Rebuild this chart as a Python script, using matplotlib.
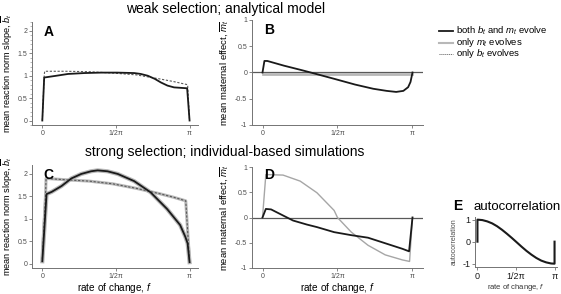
import numpy as np
import matplotlib
matplotlib.use('Agg')
import matplotlib.pyplot as plt
from matplotlib.ticker import MultipleLocator, FuncFormatter

plt.rcParams['font.family'] = ['Liberation Sans', 'DejaVu Sans']
plt.rcParams['mathtext.fontset'] = 'custom'
plt.rcParams['mathtext.it'] = 'Liberation Sans:italic'
plt.rcParams['mathtext.rm'] = 'Liberation Sans'

PI = np.pi

# panel A: weak selection, mean reaction norm slope
a_both_f = [0, 0.04, 0.3, 0.55, 0.9, 1.26, 1.6, 1.96, 2.1, 2.25, 2.4, 2.53, 2.67, 2.81, 2.95, 3.09, 3.1416]
a_both_b = [0, 0.96, 1.0, 1.04, 1.06, 1.07, 1.07, 1.06, 1.04, 1.0, 0.93, 0.85, 0.78, 0.74, 0.73, 0.72, 0]
a_bonly_f = [0, 0.04, 0.05, 0.5, 1.0, 1.5, 2.0, 2.5, 2.8, 3.1, 3.1416]
a_bonly_b = [0, 1.0, 1.1, 1.1, 1.09, 1.06, 1.02, 0.93, 0.87, 0.80, 0]

# panel B: weak selection, mean maternal effect
b_both_f = [0, 0.04, 0.1, 0.45, 0.82, 1.05, 1.5, 1.94, 2.32, 2.6, 2.8, 2.95, 3.05, 3.1, 3.1416]
b_both_m = [0, 0.22, 0.22, 0.13, 0.045, -0.01, -0.12, -0.23, -0.31, -0.35, -0.37, -0.35, -0.28, -0.18, 0]
b_monly_f = [0, 3.1416]
b_monly_m = [-0.02, -0.02]

# panel C: strong selection, mean reaction norm slope
c_both_f = [0, 0.09, 0.2, 0.41, 0.62, 0.83, 1.04, 1.18, 1.39, 1.61, 1.96, 2.31, 2.66, 2.94, 3.05, 3.1, 3.1416]
c_both_b = [0.05, 1.55, 1.6, 1.73, 1.9, 2.0, 2.06, 2.08, 2.06, 2.0, 1.84, 1.59, 1.22, 0.86, 0.6, 0.45, 0.03]
c_bonly_f = [0, 0.07, 0.08, 0.5, 1.0, 1.5, 2.0, 2.5, 2.8, 3.06, 3.1416]
c_bonly_b = [0.1, 1.55, 1.9, 1.87, 1.84, 1.78, 1.68, 1.56, 1.48, 1.4, 0.05]

# panel D: strong selection, mean maternal effect
d_both_f = [0, 0.07, 0.18, 0.43, 0.64, 0.93, 1.14, 1.5, 1.86, 2.21, 2.57, 2.93, 3.07, 3.1416]
d_both_m = [0, 0.17, 0.16, 0.04, -0.06, -0.14, -0.19, -0.29, -0.35, -0.40, -0.51, -0.62, -0.67, 0]
d_monly_f = [0, 0.07, 0.43, 0.79, 1.14, 1.5, 1.57, 1.86, 2.21, 2.57, 2.93, 3.08, 3.1416]
d_monly_m = [0, 0.85, 0.84, 0.72, 0.49, 0.14, 0.0, -0.29, -0.55, -0.74, -0.84, -0.87, 0]

# panel E: autocorrelation of the environment
e_f = [0, 0, 0.2, 0.4, 0.6, 0.8, 1.0, 1.2, 1.4, 1.571, 1.8, 2.0, 2.2, 2.4, 2.6, 2.8, 3.0, 3.1416, 3.1416]
e_r = [0, 1.0, 0.98, 0.92, 0.83, 0.70, 0.54, 0.36, 0.17, 0.0, -0.23, -0.42, -0.59, -0.74, -0.86, -0.94, -0.99, -1.0, 0]

xticks = [0, PI / 2, PI]
xticklabels = ['0', '1/2π', 'π']

W, H = 561, 294
fig = plt.figure(figsize=(W / 100, H / 100), dpi=100)


def box(l, t, r, b):
    return fig.add_axes([l / W, 1 - b / H, (r - l) / W, (b - t) / H])


def style(ax, xlim, ylim, yticks, tick_fs=5):
    for s in ['top', 'right']:
        ax.spines[s].set_visible(False)
    for s in ['left', 'bottom']:
        ax.spines[s].set_color('0.45')
        ax.spines[s].set_linewidth(0.7)
    ax.set_xlim(*xlim)
    ax.set_ylim(*ylim)
    ax.set_xticks(xticks)
    ax.set_xticklabels(xticklabels)
    ax.set_yticks(yticks)
    ax.yaxis.set_major_formatter(FuncFormatter(lambda v, p: '%g' % v))
    ax.tick_params(labelsize=tick_fs, colors='0.45', labelcolor='0.3', length=2, width=0.6, pad=1.5)


gray = '0.72'
ylab_b = r'mean reaction norm slope, $\overline{b}_t$'
ylab_m = r'mean maternal effect, $\overline{m}_t$'
xlab = r'rate of change, $f$'

A = box(32, 22, 198, 125)
A.plot(a_bonly_f, a_bonly_b, color='0.35', ls=(0, (2, 1.5)), lw=0.8)
A.plot(a_both_f, a_both_b, color='0.1', lw=1.3)
style(A, (-0.22, PI + 0.18), (-0.1, 2.2), [0, 0.5, 1, 1.5, 2])
A.yaxis.set_minor_locator(MultipleLocator(0.1))
A.tick_params(which='minor', length=1.2, width=0.4, colors='0.5')
A.set_ylabel(ylab_b, fontsize=6.6, labelpad=1.5)
A.text(0.07, 0.97, 'A', transform=A.transAxes, fontsize=10, fontweight='bold', va='top')

B = box(252, 20, 423, 125)
B.axhline(0, color='0.35', lw=0.9)
B.plot(b_monly_f, b_monly_m, color=gray, lw=2.0)
B.plot(b_both_f, b_both_m, color='0.1', lw=1.3)
style(B, (-0.22, PI + 0.22), (-1, 1), [-1, -0.5, 0, 0.5, 1])
B.set_ylabel(ylab_m, fontsize=6.8, labelpad=3)
B.text(0.07, 0.97, 'B', transform=B.transAxes, fontsize=10, fontweight='bold', va='top')

C = box(32, 165, 198, 268)
C.plot(c_bonly_f, c_bonly_b, color=gray, lw=2.2)
C.plot(c_both_f, c_both_b, color=gray, lw=3.0)
C.plot(c_bonly_f, c_bonly_b, color='0.35', ls=(0, (2, 1.5)), lw=0.8)
C.plot(c_both_f, c_both_b, color='0.1', lw=1.3)
style(C, (-0.22, PI + 0.18), (-0.1, 2.2), [0, 0.5, 1, 1.5, 2])
C.set_ylabel(ylab_b, fontsize=6.6, labelpad=1.5)
C.set_xlabel(xlab, fontsize=7.2, labelpad=0.5)
C.text(0.07, 0.97, 'C', transform=C.transAxes, fontsize=10, fontweight='bold', va='top')

D = box(252, 167, 423, 268)
D.axhline(0, color='0.35', lw=0.9)
D.plot(d_monly_f, d_monly_m, color='0.65', lw=1.0)
D.plot(d_both_f, d_both_m, color='0.1', lw=1.3)
style(D, (-0.22, PI + 0.22), (-1, 1), [-1, -0.5, 0, 0.5, 1])
D.set_ylabel(ylab_m, fontsize=6.8, labelpad=3)
D.set_xlabel(xlab, fontsize=7.2, labelpad=0.5)
D.text(0.07, 0.99, 'D', transform=D.transAxes, fontsize=10, fontweight='bold', va='top')

E = box(475, 217, 557, 267)
E.plot(e_f, e_r, color='0.1', lw=1.5)
style(E, (-0.1, PI + 0.1), (-1.15, 1.12), [-1, 0, 1], tick_fs=6.5)
E.tick_params(labelcolor='0.1')
E.set_ylabel('autocorrelation', fontsize=5, labelpad=3, color='0.3')
E.set_xlabel(xlab, fontsize=5.5, labelpad=1, color='0.2')
fig.text(517 / W, 1 - 207 / H, 'autocorrelation', fontsize=9.5, ha='center', va='center')
fig.text(453 / W, 1 - 206 / H, 'E', fontsize=10, fontweight='bold', va='center')

fig.text(226 / W, 1 - 9 / H, 'weak selection; analytical model', fontsize=10, ha='center', va='center')
fig.text(225 / W, 1 - 152 / H, 'strong selection; individual-based simulations', fontsize=10, ha='center', va='center')

# legend
legend_rows = [
    (r'both $b_t$ and $m_t$ evolve', dict(color='0.1', lw=1.3)),
    (r'only $m_t$ evolves', dict(color=gray, lw=1.5)),
    (r'only $b_t$ evolves', dict(color='0.35', ls=(0, (1, 1)), lw=0.7)),
]
for i, (lab, kw) in enumerate(legend_rows):
    y = 1 - (31 + i * 11.5) / H
    fig.add_artist(plt.Line2D([439 / W, 453 / W], [y, y], transform=fig.transFigure, **kw))
    fig.text(456 / W, y, lab, fontsize=6.8, va='center')

fig.savefig('out.png', dpi=100)
